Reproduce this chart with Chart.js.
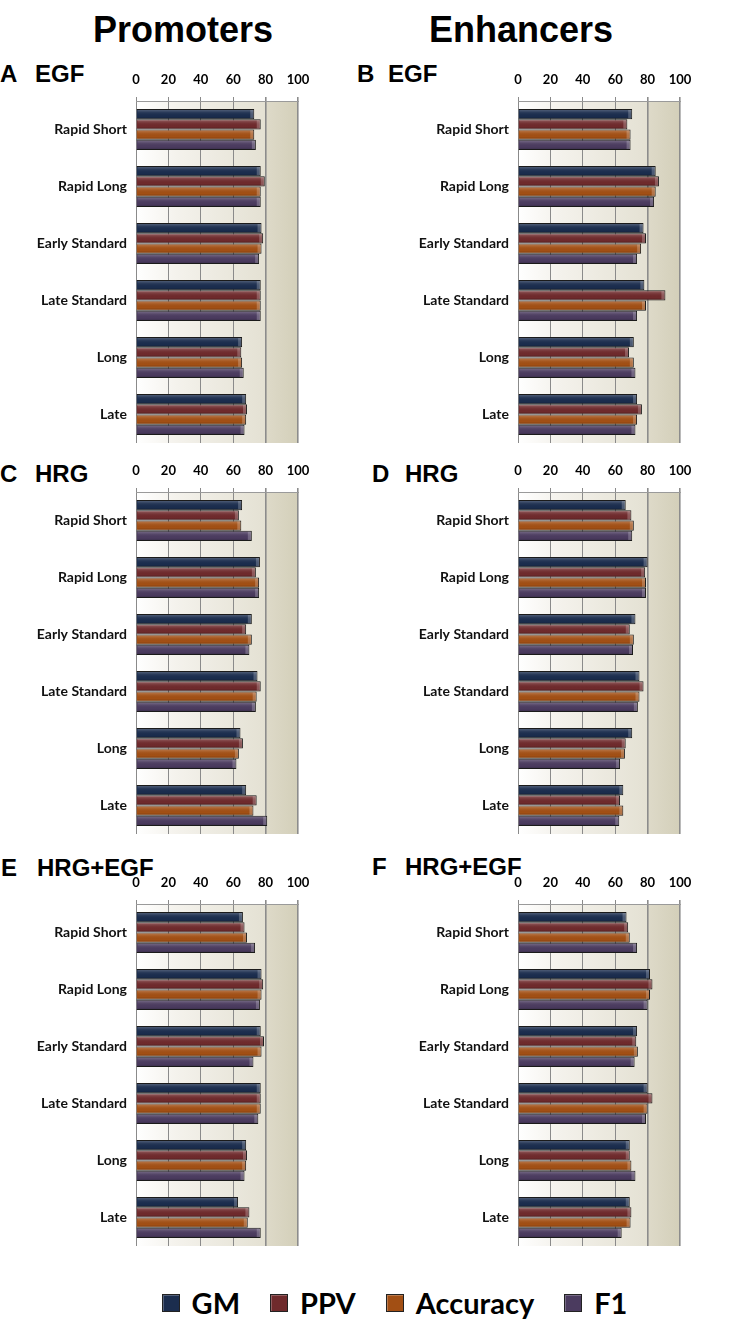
<!DOCTYPE html>
<html>
<head>
<meta charset="utf-8">
<script src="https://cdn.jsdelivr.net/npm/chart.js@4.4.1/dist/chart.umd.min.js"></script>
<style>
body{margin:0;background:#fff;width:753px;height:1322px;position:relative;overflow:hidden;font-family:"Liberation Sans",Arial,sans-serif}
.head{position:absolute;top:12px;font-size:36px;font-weight:bold;line-height:36px;transform:translateX(-50%);white-space:nowrap}
.lbl{position:absolute;font-size:24px;font-weight:bold;line-height:24px;white-space:nowrap}
.box{position:absolute}
#legend{position:absolute;left:0;top:1285px;width:753px;padding-left:36px;box-sizing:border-box;display:flex;justify-content:center;align-items:center;gap:30px;font-family:Lato,sans-serif;font-weight:bold;font-size:29px;color:#000}
#legend span.it{display:flex;align-items:center;gap:12px}
#legend i{display:inline-block;width:16px;height:16px;border:1px solid #222;box-shadow:inset 1px 1px 0 rgba(255,255,255,0.25)}
</style>
</head>
<body>
<div class="head" style="left:183px">Promoters</div>
<div class="head" style="left:521px">Enhancers</div>

<div class="lbl" style="left:0;top:62px">A</div><div class="lbl" style="left:35px;top:62px">EGF</div>
<div class="lbl" style="left:357px;top:62px">B</div><div class="lbl" style="left:388px;top:62px">EGF</div>
<div class="lbl" style="left:0;top:462px">C</div><div class="lbl" style="left:35px;top:462px">HRG</div>
<div class="lbl" style="left:372px;top:462px">D</div><div class="lbl" style="left:405px;top:462px">HRG</div>
<div class="lbl" style="left:1px;top:856px">E</div><div class="lbl" style="left:37px;top:856px">HRG+EGF</div>
<div class="lbl" style="left:372px;top:855px">F</div><div class="lbl" style="left:405px;top:855px">HRG+EGF</div>

<div class="box" style="left:0;top:71px;width:330px;height:374px"><canvas id="cA"></canvas></div>
<div class="box" style="left:370px;top:71px;width:383px;height:374px"><canvas id="cB"></canvas></div>
<div class="box" style="left:0;top:462px;width:330px;height:374px"><canvas id="cC"></canvas></div>
<div class="box" style="left:370px;top:462px;width:383px;height:374px"><canvas id="cD"></canvas></div>
<div class="box" style="left:0;top:874px;width:330px;height:374px"><canvas id="cE"></canvas></div>
<div class="box" style="left:370px;top:874px;width:383px;height:374px"><canvas id="cF"></canvas></div>

<div id="legend"></div>

<script>
const categories = ['Rapid Short', 'Rapid Long', 'Early Standard', 'Late Standard', 'Long', 'Late'];
const seriesNames = ['GM', 'PPV', 'Accuracy', 'F1'];
const seriesColors = ['#1b2d4e', '#6f2a2c', '#a24f14', '#4b3b5f'];
const xTicks = [0, 20, 40, 60, 80, 100];

// A - promoters, EGF
const promEGF_GM  = [73, 77, 77.5, 77, 65.5, 68];
const promEGF_PPV = [77, 79.5, 78.5, 77, 65, 68.5];
const promEGF_Acc = [73, 77, 77.5, 77, 65.5, 68];
const promEGF_F1  = [74, 77, 76, 77, 66.5, 67];
// B - enhancers, EGF
const enhEGF_GM  = [70.5, 85, 77.5, 78, 71.5, 73.5];
const enhEGF_PPV = [67.5, 87, 79, 91, 68.5, 76.5];
const enhEGF_Acc = [69.5, 85, 76, 79, 71.5, 73.5];
const enhEGF_F1  = [69.5, 84, 73.5, 73.5, 72.5, 72.5];
// C - promoters, HRG
const promHRG_GM  = [65.5, 76.5, 71.5, 75, 64.5, 68];
const promHRG_PPV = [63.5, 74, 68, 77, 66, 74.5];
const promHRG_Acc = [65, 76, 71.5, 74.5, 63.5, 72.5];
const promHRG_F1  = [71.5, 76, 70, 74, 62, 81];
// D - enhancers, HRG
const enhHRG_GM  = [66.5, 80, 72.5, 75, 70.5, 65];
const enhHRG_PPV = [70, 78.5, 69, 77.5, 66.5, 63];
const enhHRG_Acc = [71.5, 79, 71.5, 75, 66, 65];
const enhHRG_F1  = [70.5, 79, 71, 74, 63, 62.5];
// E - promoters, HRG+EGF
const promBoth_GM  = [66, 77.5, 77, 77, 68, 63];
const promBoth_PPV = [67, 78.5, 79, 77, 68.5, 70];
const promBoth_Acc = [68.5, 77.5, 77.5, 77, 68, 69];
const promBoth_F1  = [73.5, 76.5, 72.5, 75.5, 67, 77];
// F - enhancers, HRG+EGF
const enhBoth_GM  = [67, 81.5, 73.5, 80, 69, 69];
const enhBoth_PPV = [68, 83, 73, 83, 69, 70];
const enhBoth_Acc = [69, 81.5, 74, 80, 70, 69.5];
const enhBoth_F1  = [73.5, 80, 72, 79, 72.5, 64];

// plot area shading: white to beige, darker block from 80 to 100
const bgPlugin = {
  id: 'bg',
  beforeDraw(chart) {
    const {ctx, chartArea: a, scales: {x}} = chart;
    const f80 = (x.getPixelForValue(80) - a.left) / a.width;
    const g = ctx.createLinearGradient(a.left, 0, a.right, 0);
    g.addColorStop(0, '#ffffff');
    g.addColorStop(0.25, '#f4f2ec');
    g.addColorStop(f80 - 0.001, '#e4e1d3');
    g.addColorStop(f80, '#dedac9');
    g.addColorStop(1, '#d3cfb9');
    ctx.save();
    ctx.fillStyle = g;
    ctx.fillRect(a.left, a.top, a.width, a.height);
    ctx.restore();
  }
};

// light top edge / dark bottom edge on each bar for the bevelled look
const bevelPlugin = {
  id: 'bevel',
  afterDatasetsDraw(chart) {
    const ctx = chart.ctx;
    chart.data.datasets.forEach((ds, i) => {
      chart.getDatasetMeta(i).data.forEach(bar => {
        const p = bar.getProps(['x', 'y', 'base', 'height']);
        const top = p.y - p.height / 2, h = p.height;
        const g = ctx.createLinearGradient(0, top, 0, top + h);
        g.addColorStop(0, 'rgba(255,255,255,0.28)');
        g.addColorStop(0.35, 'rgba(255,255,255,0.06)');
        g.addColorStop(0.7, 'rgba(0,0,0,0)');
        g.addColorStop(1, 'rgba(0,0,0,0.25)');
        ctx.save();
        ctx.fillStyle = g;
        ctx.fillRect(p.base + 1, top + 1, p.x - p.base - 2, h - 2);
        ctx.fillStyle = 'rgba(255,255,255,0.22)';
        ctx.fillRect(p.x - 4, top + 1, 3, h - 2);
        ctx.restore();
      });
    });
  }
};

function makeChart(id, gm, ppv, acc, f1, yWidth, padRight) {
  const vals = [gm, ppv, acc, f1];
  return new Chart(document.getElementById(id), {
    type: 'bar',
    data: {
      labels: categories,
      datasets: seriesNames.map((n, i) => ({
        label: n,
        data: vals[i],
        backgroundColor: seriesColors[i],
        borderColor: '#1a1a1a',
        borderWidth: 1,
        categoryPercentage: 0.72,
        barPercentage: 1.0
      }))
    },
    options: {
      indexAxis: 'y',
      responsive: true,
      maintainAspectRatio: false,
      animation: false,
      layout: {padding: {right: padRight, bottom: 2}},
      plugins: {legend: {display: false}, tooltip: {enabled: false}},
      scales: {
        x: {
          position: 'top',
          min: 0, max: 100,
          afterBuildTicks: s => { s.ticks = xTicks.map(v => ({value: v})); },
          afterFit: s => { s.height = 30; s.paddingLeft = 0; s.paddingRight = 0; },
          ticks: {color: '#000', padding: 9, font: {family: 'Lato', weight: 'bold', size: 13}},
          grid: {
            tickLength: 4,
            color: c => (c.tick && c.tick.value >= 80) ? '#8c8c8c' : '#8a8a8a',
            lineWidth: c => (c.tick && c.tick.value >= 80) ? 1.6 : 1
          },
          border: {color: '#9a9a9a'}
        },
        y: {
          afterFit: s => { s.width = yWidth; s.paddingTop = 0; s.paddingBottom = 0; },
          ticks: {color: '#111', padding: 9, font: {family: 'Lato', weight: 'bold', size: 14}},
          grid: {display: false, drawTicks: false},
          border: {display: false}
        }
      }
    },
    plugins: [bgPlugin, bevelPlugin]
  });
}

makeChart('cA', promEGF_GM, promEGF_PPV, promEGF_Acc, promEGF_F1, 136, 32);
makeChart('cB', enhEGF_GM, enhEGF_PPV, enhEGF_Acc, enhEGF_F1, 148, 73);
makeChart('cC', promHRG_GM, promHRG_PPV, promHRG_Acc, promHRG_F1, 136, 32);
makeChart('cD', enhHRG_GM, enhHRG_PPV, enhHRG_Acc, enhHRG_F1, 148, 73);
makeChart('cE', promBoth_GM, promBoth_PPV, promBoth_Acc, promBoth_F1, 136, 32);
makeChart('cF', enhBoth_GM, enhBoth_PPV, enhBoth_Acc, enhBoth_F1, 148, 73);

const legend = document.getElementById('legend');
seriesNames.forEach((n, i) => {
  const it = document.createElement('span');
  it.className = 'it';
  it.innerHTML = '<i style="background:' + seriesColors[i] + '"></i>' + n;
  legend.appendChild(it);
});
</script>
</body>
</html>
